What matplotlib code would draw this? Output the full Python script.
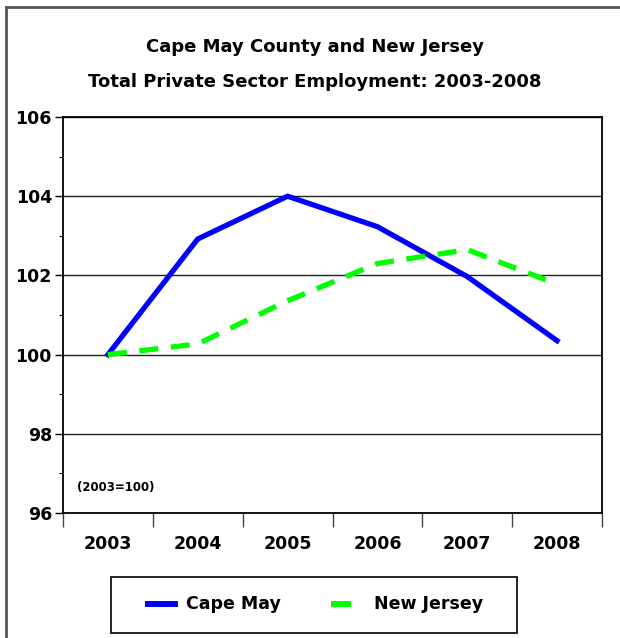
import matplotlib
matplotlib.use("Agg")
import matplotlib.pyplot as plt
from matplotlib.lines import Line2D
from matplotlib.patches import Rectangle
from matplotlib.ticker import MultipleLocator

years = ["2003", "2004", "2005", "2006", "2007", "2008"]
cape_may = [100.0, 102.92, 104.0, 103.23, 101.97, 100.35]
new_jersey = [100.0, 100.27, 101.36, 102.3, 102.65, 101.78]
series_names = ["Cape May", "New Jersey"]
title = "Cape May County and New Jersey\nTotal Private Sector Employment: 2003-2008"
note = "(2003=100)"

plt.rcParams['font.family'] = ['DejaVu Sans']
plt.rcParams['font.weight'] = 'bold'

BLUE = "#0000FF"
GREEN = "#00FF00"

W, H = 620, 638
fig = plt.figure(figsize=(W / 100, H / 100), dpi=100)
ax = fig.add_axes([63 / W, 1 - 513 / H, (602 - 63) / W, (513 - 117) / H])

x = list(range(len(years)))
ax.plot(x, cape_may, color=BLUE, lw=3.8, solid_joinstyle="miter", zorder=3)
ax.plot(x, new_jersey, color=GREEN, lw=3.8, dashes=(3.6, 2.4),
        dash_capstyle="butt", zorder=3)

ax.set_xlim(-0.5, len(years) - 0.5)
ax.set_ylim(96, 106)
ax.yaxis.set_major_locator(MultipleLocator(2))
ax.yaxis.set_minor_locator(MultipleLocator(1))
ax.grid(axis="y", which="major", color="#222222", lw=1.0)
ax.set_axisbelow(True)

ax.set_xticks([i - 0.5 for i in range(len(years) + 1)])
ax.set_xticklabels([])
ax.set_xticks(x, minor=True)
ax.set_xticklabels(years, minor=True)
ax.tick_params(axis="x", which="major", length=10, width=1, color="#444444")
ax.tick_params(axis="x", which="minor", length=0, pad=16, labelsize=12.5)
ax.tick_params(axis="y", which="major", length=6, width=1, labelsize=12.5, pad=2)
ax.tick_params(axis="y", which="minor", length=3, width=0.8)
for lbl in ax.get_xticklabels(minor=True) + ax.get_yticklabels():
    lbl.set_fontweight("bold")

for s in ["left", "bottom", "top", "right"]:
    ax.spines[s].set_linewidth(1.3)
    ax.spines[s].set_color("black")

fig.text(77 / W, 1 - 487 / H, note, fontsize=8.5, fontweight="bold",
         va="center", ha="left")

fig.text(315 / W, 1 - 64.5 / H, title, ha="center", va="center",
         fontsize=13, fontweight="bold", linespacing=2.15)

# legend box (drawn manually to match reference layout)
tf = fig.transFigure
fig.add_artist(Rectangle((111 / W, 1 - 633 / H), (517 - 111) / W, (633 - 577) / H,
                         transform=tf, fill=False, edgecolor="black", lw=1.2))
ly = 1 - 604 / H
fig.add_artist(Line2D([145 / W, 178 / W], [ly, ly], transform=tf,
                      color=BLUE, lw=4.3, solid_capstyle="butt"))
fig.add_artist(Line2D([331 / W, 351 / W], [ly, ly], transform=tf,
                      color=GREEN, lw=4.3, solid_capstyle="butt"))
fig.text(186 / W, ly, series_names[0], transform=tf, fontsize=12.5,
         fontweight="bold", va="center", ha="left")
fig.text(374 / W, ly, series_names[1], transform=tf, fontsize=12.5,
         fontweight="bold", va="center", ha="left")

# outer frame (top and left edges)
fig.add_artist(Line2D([6 / W, 6 / W], [0, 1 - 7 / H], transform=tf,
                      color="#555555", lw=2))
fig.add_artist(Line2D([6 / W, 1], [1 - 7 / H, 1 - 7 / H], transform=tf,
                      color="#555555", lw=2))

fig.savefig("out.png", dpi=100)
